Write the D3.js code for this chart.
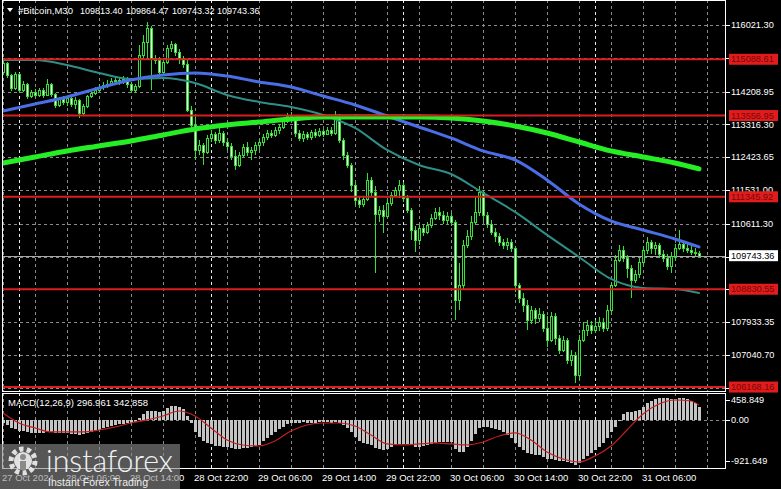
<!DOCTYPE html>
<html><head><meta charset="utf-8">
<script src="https://cdn.jsdelivr.net/npm/d3@7"></script>
<style>html,body{margin:0;padding:0;background:#000;overflow:hidden}svg{display:block}</style>
</head><body><svg id="c" width="781" height="489"></svg>
<script>
// ---------- DATA ----------
const symbolTitle = "#Bitcoin,M30";
const titleValues = ["109813.40","109864.47","109743.32","109743.36"];
const opens=[114743,114988,114661,114307,114688,114253,114416,114090,114199,114117,
114253,114117,114416,114144,113845,114008,113926,114035,113872,113981,
113627,113818,114090,114171,114253,114335,114389,114416,114498,114525,
114471,114552,114416,114253,114362,115205,115559,115940,115124,115069,
114743,115015,115396,115505,115287,115124,114961,113709,113301,112621,
112757,112567,112947,113056,112893,113083,112838,112730,112458,112212,
112485,112702,112567,112621,112757,112838,112974,113083,113029,113165,
113246,113410,113546,113437,113083,112947,113056,112974,113110,113029,
113138,113056,113165,113083,113546,112893,112485,112212,111668,111260,
111151,111287,111804,111478,110879,110988,110825,111178,111396,111532,
111668,111314,110988,110444,110172,110498,110389,110580,110770,110933,
110852,110716,110825,110662,108539,108947,110036,110281,110662,110933,
111478,110852,110607,110389,110281,110117,110036,110117,109954,108947,
108593,108403,107995,108267,108049,108158,107777,107450,108104,107505,
107178,107450,106906,107042,106498,107450,107722,107859,107722,107831,
107940,107777,108267,108947,109627,109899,109681,109409,109083,109246,
109573,109899,110117,109954,110036,109790,109681,109464,109736,109954,
110063,109954,109899,109845,109813.40];
const highs=[115069,115015,114688,114743,114716,114498,114444,114253,114280,114307,
114307,114552,114444,114171,114063,114090,114090,114063,114063,114008,
113872,114117,114253,114335,114416,114471,114525,114580,114634,114607,
114634,114607,114471,114416,115477,115749,116103,115994,115205,115151,
115124,115477,115586,115532,115369,115178,115069,113818,113573,112893,
112811,113029,113165,113110,113219,113138,112947,112811,112621,112567,
112784,112838,112702,112838,112920,113056,113165,113165,113246,113328,
113491,113627,113654,113491,113165,113138,113110,113165,113192,113219,
113192,113246,113246,113682,113600,112947,112567,112266,111722,111342,
111369,111994,111886,111641,111097,111124,111287,111478,111614,111804,
111750,111396,111042,110553,110580,110607,110662,110879,111042,111070,
110961,110933,110906,110716,109532,110172,110444,110825,111342,111641,
111532,110933,110716,110498,110362,110199,110226,110199,110009,109001,
108729,108539,108376,108321,108321,108240,108104,108212,108185,107586,
107559,107505,107178,107124,107586,107940,107995,107967,107995,108076,
108049,108403,109028,109763,110036,110009,109763,109491,109355,109681,
110009,110253,110172,110117,110090,109899,109790,109845,110063,110444,
110117,110063,110009,109954,109864.47];
const lows=[114661,114580,114226,114253,114171,114199,114008,114035,114063,114063,
114035,114090,114063,113763,113790,113845,113818,113790,113736,113491,
113546,113763,114035,114117,114199,114253,114307,114362,114416,114389,
114416,114307,114171,114171,114307,115069,115124,114253,114961,114634,
114743,114961,115287,115178,114961,114852,113654,113165,112348,112485,
112212,112512,112838,112784,112811,112730,112621,112348,112076,112158,
112430,112457,112348,112485,112621,112730,112893,112947,112974,113056,
113192,113355,113382,112974,112866,112838,112893,112893,112947,112974,
112974,113029,113002,113029,112811,112348,112130,111478,111124,111042,
111070,111233,111342,109273,110662,110362,110770,111097,111342,111314,
111206,110906,110172,109845,110036,110281,110335,110498,110716,110716,
110607,110607,110553,107995,108267,108811,109954,110172,110580,110825,
110662,110498,110308,110117,110009,109927,109899,109845,108757,108457,
108212,107722,107886,107886,107940,107668,107260,107396,107314,107070,
107124,106798,106743,106281,106362,107396,107559,107614,107641,107695,
107668,107695,108212,108893,109573,109573,109137,108593,109001,109137,
109491,109790,109790,109763,109681,109573,109355,109273,109627,109899,
109845,109817,109763,109736,109743.32];
const closes=[114988,114661,114307,114688,114253,114416,114090,114199,114117,114253,
114117,114416,114144,113845,114008,113926,114035,113872,113981,113627,
113818,114090,114171,114253,114335,114389,114416,114498,114525,114471,
114552,114416,114253,114362,115205,115559,115940,115124,115069,114743,
115015,115396,115505,115287,115124,114961,113709,113301,112621,112757,
112567,112947,113056,112893,113083,112838,112730,112458,112212,112485,
112702,112567,112621,112757,112838,112974,113083,113029,113165,113246,
113410,113546,113437,113083,112947,113056,112974,113110,113029,113138,
113056,113165,113083,113546,112893,112485,112212,111668,111260,111151,
111287,111804,111478,110879,110988,110825,111178,111396,111532,111668,
111314,110988,110444,110172,110498,110389,110580,110770,110933,110852,
110716,110825,110662,108539,108947,110036,110281,110662,110933,111478,
110852,110607,110389,110281,110117,110036,110117,109954,108947,108593,
108403,107995,108267,108049,108158,107777,107450,108104,107505,107178,
107450,106906,107042,106498,107450,107722,107859,107722,107831,107940,
107777,108267,108947,109627,109899,109681,109409,109083,109246,109573,
109899,110117,109954,110036,109790,109681,109464,109736,109954,110063,
109954,109899,109845,109813.40,109743.36];

// moving averages, read every 8 bars (+ last bar)
const maIdx=[0,8,16,24,32,40,48,56,64,72,80,88,96,104,112,120,128,136,144,152,160,168,174];
const maTeal=[115069,115069,114933,114716,114552,114580,114444,114117,113926,113790,113573,113219,112621,112212,111967,111450,110934,110308,109709,109110,108865,108838,108729];
const maBlue=[113682,113872,114063,114307,114525,114661,114716,114634,114471,114335,114090,113845,113546,113246,112947,112594,112348,111804,111151,110689,110444,110199,109981];
const maGreen=[112266,112430,112594,112730,112866,113029,113192,113301,113382,113464,113518,113518,113518,113518,113491,113410,113274,113083,112838,112594,112430,112266,112104];

// MACD main (histogram) per bar
const macdMain=[-64,-109,-177,-200,-246,-246,-268,-291,-291,-291,
-291,-268,-268,-291,-291,-291,-291,-314,-314,-337,
-314,-291,-268,-246,-223,-177,-155,-132,-109,-86,
-86,-64,-64,-41,50,141,209,209,209,186,
209,277,323,323,300,255,95,-64,-268,-382,
-473,-518,-541,-587,-587,-609,-609,-632,-655,-655,
-632,-632,-609,-587,-564,-473,-405,-337,-268,-200,
-155,-86,-64,-64,-64,-41,-64,-64,-64,-41,
-41,-41,-64,-41,-64,-109,-177,-268,-382,-473,
-518,-541,-564,-632,-655,-678,-655,-609,-564,-541,
-541,-541,-564,-609,-609,-587,-564,-541,-518,-496,
-496,-496,-496,-655,-723,-723,-609,-473,-314,-177,
-155,-155,-177,-200,-223,-268,-337,-405,-518,-609,
-678,-746,-769,-791,-791,-837,-882,-882,-905,-928,
-928,-951,-973,-1019,-973,-882,-814,-746,-678,-609,
-518,-405,-268,-155,-18,141,186,186,209,232,
300,391,436,482,505,505,505,482,482,505,
505,482,436,391,296.961];
// MACD signal, read every 4 bars (+ last bar)
const sigIdx=[0,4,8,12,16,20,24,28,32,36,40,44,48,52,56,60,64,68,72,76,80,84,88,92,96,100,104,108,112,116,120,124,128,132,136,140,144,148,152,156,160,164,168,172,174];
const macdSignal=[164,-64,-177,-268,-268,-268,-223,-155,-64,5,95,209,95,-177,-451,-564,-587,-473,-246,-109,-64,-64,-132,-337,-541,-564,-541,-518,-541,-564,-496,-359,-291,-451,-723,-882,-951,-814,-587,-223,141,368,459,436,342.858];

// levels & axis
const levels=[115088.61,113556.95,111345.92,108830.55,106168.16];
const bidPrice=109743.36;
const gridPrices=[116021.30,115115.00,114208.95,113316.30,112423.65,111531.00,110611.30,109718.65,108826.00,107933.35,107040.70,106148.05];
const priceLabels=["116021.30","114208.95","113316.30","112423.65","111531.00","110611.30","107933.35","107040.70"];
const macdLabels=["458.849","0.00","-921.649"];
const timeIdx=[0,16,32,48,64,80,96,112,128,144,160];
const timeLabels=["27 Oct 2024","28 Oct 06:00","28 Oct 14:00","28 Oct 22:00","29 Oct 06:00","29 Oct 14:00","29 Oct 22:00","30 Oct 06:00","30 Oct 14:00","30 Oct 22:00","31 Oct 06:00"];
const gridIdx=[0,8,16,24,32,40,48,56,64,72,80,88,96,104,112,120,128,136,144,152,160,168,176];
const dayIdx=[4,52,100,148];

// ---------- CHART ----------
const W=781,H=489, FONT="'Liberation Sans', Arial, sans-serif";
const svg=d3.select('#c');
svg.append('rect').attr('width',W).attr('height',H).attr('fill','#000');
const L=2, R=725, MT=0, MB=391, ST=393, SB=468;
const x=d3.scaleLinear().domain([0,174]).range([3,699]);
const y=d3.scaleLinear().domain([107040.70,116021.30]).range([355,25]);
const ym=d3.scaleLinear().domain([-921.649,458.849]).range([460.7,400]);

const defs=svg.append('defs');
defs.append('clipPath').attr('id','cm').append('rect').attr('x',L+1).attr('y',MT+1).attr('width',R-L-1).attr('height',MB-MT-1);
defs.append('clipPath').attr('id','cs').append('rect').attr('x',L+1).attr('y',ST+1).attr('width',R-L-1).attr('height',SB-ST-1);

const gm=svg.append('g').attr('clip-path','url(#cm)');
const gs=svg.append('g').attr('clip-path','url(#cs)');

// grids
[[gm,MT,MB],[gs,ST,SB]].forEach(([g,t,b])=>{
  g.selectAll(null).data(gridIdx).join('line')
   .attr('x1',d=>Math.round(x(d))+0.5).attr('x2',d=>Math.round(x(d))+0.5)
   .attr('y1',t).attr('y2',b).attr('stroke','#8a8a8a').attr('stroke-dasharray','3,3');
  g.selectAll(null).data(dayIdx).join('line')
   .attr('x1',d=>Math.round(x(d))+0.5).attr('x2',d=>Math.round(x(d))+0.5)
   .attr('y1',t).attr('y2',b).attr('stroke','#ececec').attr('stroke-dasharray','3,3');
});
gm.selectAll(null).data(gridPrices).join('line')
  .attr('x1',L).attr('x2',R).attr('y1',d=>Math.round(y(d))+0.5).attr('y2',d=>Math.round(y(d))+0.5)
  .attr('stroke','#8a8a8a').attr('stroke-dasharray','3,3');
gs.append('line').attr('x1',L).attr('x2',R).attr('y1',Math.round(ym(0))+0.5).attr('y2',Math.round(ym(0))+0.5)
  .attr('stroke','#8a8a8a').attr('stroke-dasharray','3,3');

// bid line
gm.append('line').attr('x1',L).attr('x2',R).attr('y1',Math.round(y(bidPrice))+0.5).attr('y2',Math.round(y(bidPrice))+0.5)
  .attr('stroke','#a8a8a8');

// candles
const GREEN='#36e036';
const candles=opens.map((o,i)=>({i,o,h:highs[i],l:lows[i],c:closes[i]}));
const cg=gm.append('g').attr('shape-rendering','crispEdges');
candles.forEach(d=>{
  const cx=Math.round(x(d.i));
  const yh=Math.round(y(d.h)), yl=Math.round(y(d.l));
  cg.append('rect').attr('x',cx).attr('width',1).attr('y',yh).attr('height',Math.max(1,yl-yh)).attr('fill',GREEN);
  const top=Math.round(y(Math.max(d.o,d.c))), bot=Math.round(y(Math.min(d.o,d.c)));
  cg.append('rect').attr('x',cx-1).attr('width',3).attr('y',top).attr('height',Math.max(1,bot-top+1)).attr('fill',GREEN);
  if(bot-top>=2) cg.append('rect').attr('x',cx).attr('width',1).attr('y',top+1).attr('height',bot-top-1)
     .attr('fill',d.c>=d.o?'#000':'#e8ffe8');
});

// moving averages
const maLine=d3.line().x(d=>x(d[0])).y(d=>y(d[1])).curve(d3.curveMonotoneX);
[[maTeal,'#2f8f88',2],[maBlue,'#4a6ee6',3],[maGreen,'#25ee25',5]].forEach(([arr,col,w])=>{
  gm.append('path').attr('d',maLine(maIdx.map((k,j)=>[k,arr[j]])))
    .attr('fill','none').attr('stroke',col).attr('stroke-width',w).attr('stroke-linecap','round');
});

// horizontal levels
gm.selectAll(null).data(levels).join('line')
  .attr('x1',L).attr('x2',R).attr('y1',d=>y(d)).attr('y2',d=>y(d))
  .attr('stroke','#d81e1e').attr('stroke-width',2);

// MACD
gs.append('g').attr('shape-rendering','crispEdges').selectAll('rect').data(macdMain).join('rect')
  .attr('x',(d,i)=>Math.round(x(i))-1).attr('width',3)
  .attr('y',d=>Math.round(Math.min(ym(0),ym(d)))).attr('height',d=>Math.max(1,Math.round(Math.abs(ym(d)-ym(0)))))
  .attr('fill','#c4c4c4');
gs.append('path').attr('d',d3.line().x(d=>x(d[0])).y(d=>ym(d[1])).curve(d3.curveMonotoneX)(sigIdx.map((k,j)=>[k,macdSignal[j]])))
  .attr('fill','none').attr('stroke','#c42020').attr('stroke-width',1.2);

// frames
svg.append('rect').attr('x',L+0.5).attr('y',MT+0.5).attr('width',R-L).attr('height',MB-MT).attr('fill','none').attr('stroke','#fff');
svg.append('rect').attr('x',L+0.5).attr('y',ST+0.5).attr('width',R-L).attr('height',SB-ST).attr('fill','none').attr('stroke','#fff');

// right price axis
const ax=svg.append('g').attr('font-family',FONT).attr('font-size',9.2).attr('fill','#fff');
svg.selectAll(null).data(gridPrices).join('line').attr('x1',R).attr('x2',R+5)
  .attr('y1',d=>Math.round(y(d))+0.5).attr('y2',d=>Math.round(y(d))+0.5).attr('stroke','#fff');
ax.selectAll(null).data(priceLabels).join('text').attr('x',731).attr('y',d=>y(+d)).attr('dy','0.35em').text(d=>d);
// level labels
levels.forEach(v=>{
  svg.append('rect').attr('x',729).attr('y',y(v)-5.5).attr('width',49).attr('height',11).attr('fill','#e01c1c');
  svg.append('text').attr('x',731).attr('y',y(v)).attr('dy','0.35em').attr('font-family',FONT).attr('font-size',9.2)
    .attr('fill','#7a0606').text(v.toFixed(2));
});
// bid label
svg.append('rect').attr('x',729).attr('y',y(bidPrice)-5.5).attr('width',49).attr('height',11).attr('fill','#fff');
svg.append('text').attr('x',731).attr('y',y(bidPrice)).attr('dy','0.35em').attr('font-family',FONT).attr('font-size',9.2)
  .attr('fill','#000').text(bidPrice.toFixed(2));
// macd axis
macdLabels.forEach(s=>{
  const yy=ym(+s);
  svg.append('line').attr('x1',R).attr('x2',R+5).attr('y1',Math.round(yy)+0.5).attr('y2',Math.round(yy)+0.5).attr('stroke','#fff');
  ax.append('text').attr('x',731).attr('y',yy).attr('dy','0.35em').text(s);
});

// time axis
const tx=svg.append('g').attr('font-family',FONT).attr('font-size',9.5).attr('fill','#fff');
tx.selectAll(null).data(timeIdx).join('text').attr('x',d=>x(d)-1).attr('y',481).text((d,i)=>timeLabels[i]);

// title
svg.append('path').attr('d','M7,8 L13,8 L10,12 Z').attr('fill','#fff');
const tt=svg.append('g').attr('font-family',FONT).attr('font-size',9).attr('fill','#fff');
tt.append('text').attr('x',18).attr('y',14).attr('font-size',9.5).text(symbolTitle);
[80,126,172,217].forEach((px,i)=>tt.append('text').attr('x',px).attr('y',14).text(titleValues[i]));
tt.append('text').attr('x',8).attr('y',406).attr('font-size',9.5).text('MACD(12,26,9) 296.961 342.858');

// watermark
const wm=svg.append('g');
wm.append('rect').attr('x',0).attr('y',444).attr('width',180).attr('height',45).attr('fill','#8a8a8a').attr('opacity',0.62);
wm.append('circle').attr('cx',23).attr('cy',461).attr('r',12).attr('fill','none').attr('stroke','#f0f0f0')
  .attr('stroke-width',5).attr('stroke-dasharray','4.2,3.3').attr('opacity',0.9);
wm.append('circle').attr('cx',23).attr('cy',461).attr('r',9).attr('fill','#f0f0f0').attr('opacity',0.9);
wm.append('circle').attr('cx',23).attr('cy',457).attr('r',3).attr('fill','#8a8a8a');
wm.append('rect').attr('x',20).attr('y',461).attr('width',6).attr('height',9).attr('fill','#8a8a8a');
wm.append('text').attr('x',46).attr('y',472).attr('font-family','Lato, sans-serif').attr('font-weight',300)
  .attr('font-size',32).attr('fill','#f2f2f2').attr('textLength',127).attr('lengthAdjust','spacingAndGlyphs').text('instaforex');
wm.append('text').attr('x',48).attr('y',486).attr('font-family',FONT).attr('font-size',10.5)
  .attr('fill','#eeeeee').attr('textLength',100).text('Instant Forex Trading');
</script></body></html>
